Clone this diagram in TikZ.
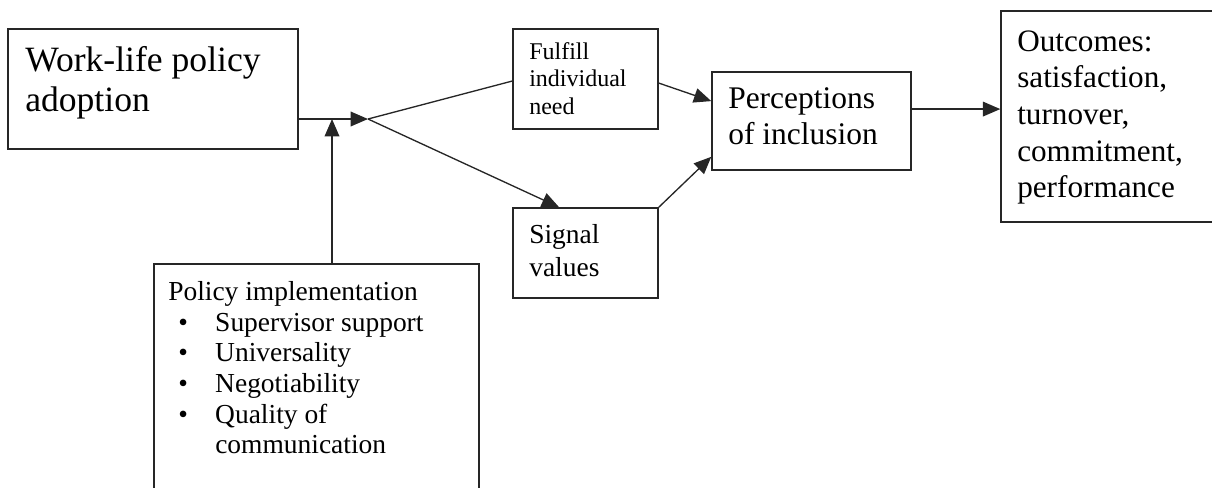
\documentclass[tikz,border=0pt]{standalone}
\usepackage{fontspec}
\setmainfont{Liberation Serif}
\usetikzlibrary{arrows.meta,calc}

\begin{document}
\begin{tikzpicture}[x=0.75pt, y=-0.75pt,
    box/.style={draw=black!85, line width=1.1pt, rectangle, inner sep=0pt},
    txt/.style={anchor=north west, inner sep=0pt, align=left},
    ln/.style={draw=black!85, line width=1pt},
    arr/.style={ln, -{Triangle[length=13pt, width=11pt]}}]
\useasboundingbox (0,0) rectangle (1212,487);

% Boxes
\node[box, minimum width=217.5pt, minimum height=90pt] (adopt) at (153,89) {};
\node[box, minimum width=108.75pt, minimum height=75pt] (fulfill) at (585.5,79) {};
\node[box, minimum width=108.75pt, minimum height=67.5pt] (signal) at (585.5,253) {};
\node[box, minimum width=149.25pt, minimum height=73.5pt] (incl) at (811.5,121) {};
\node[box, minimum width=161.25pt, minimum height=158.25pt] (outc) at (1108.5,116.5) {};
\node[box, minimum width=243.75pt, minimum height=180pt] (impl) at (316.5,384) {};

% Texts
\node[txt, font=\fontsize{26.7}{30}\selectfont] (adoptt) at (25,46) {Work-life policy\\adoption};
\node[txt, font=\fontsize{18}{20.6}\selectfont] (fulfillt) at (529,42) {Fulfill\\individual\\need};
\node[txt, font=\fontsize{20.6}{24.75}\selectfont] (signalt) at (529,224) {Signal\\values};
\node[txt, font=\fontsize{23.6}{27}\selectfont] (inclt) at (728,87.5) {Perceptions\\of inclusion};
\node[txt, font=\fontsize{23.4}{27.4}\selectfont] (outct) at (1017,30.5) {Outcomes:\\satisfaction,\\turnover,\\commitment,\\performance};
\node[txt, font=\fontsize{20.6}{23}\selectfont] (implt) at (168,281) {Policy implementation\\
    \hspace*{7.5pt}\makebox[27.75pt][l]{\textbullet}Supervisor support\\
    \hspace*{7.5pt}\makebox[27.75pt][l]{\textbullet}Universality\\
    \hspace*{7.5pt}\makebox[27.75pt][l]{\textbullet}Negotiability\\
    \hspace*{7.5pt}\makebox[27.75pt][l]{\textbullet}Quality of\\
    \hspace*{35.25pt}communication};

% Connectors
\coordinate (jn) at (368,119);
\coordinate (vj) at (332,119);
\draw[arr] (adopt.east |- jn) -- (jn);
\draw[arr] (impl.north -| vj) -- (vj);
\draw[ln] (jn) -- ($(fulfill.north west)!0.52!(fulfill.south west)$);
\draw[arr] (jn) -- ($(signal.north west)!0.32!(signal.north east)$);
\draw[arr] ($(fulfill.north east)!0.54!(fulfill.south east)$) -- ($(incl.north west)!0.3!(incl.south west)$);
\draw[arr] (signal.north east) -- ($(incl.north west)!0.86!(incl.south west)$);
\coordinate (lev) at ($(incl.north east)!0.38!(incl.south east)$);
\draw[arr] (lev) -- (lev -| outc.west);
\end{tikzpicture}
\end{document}
